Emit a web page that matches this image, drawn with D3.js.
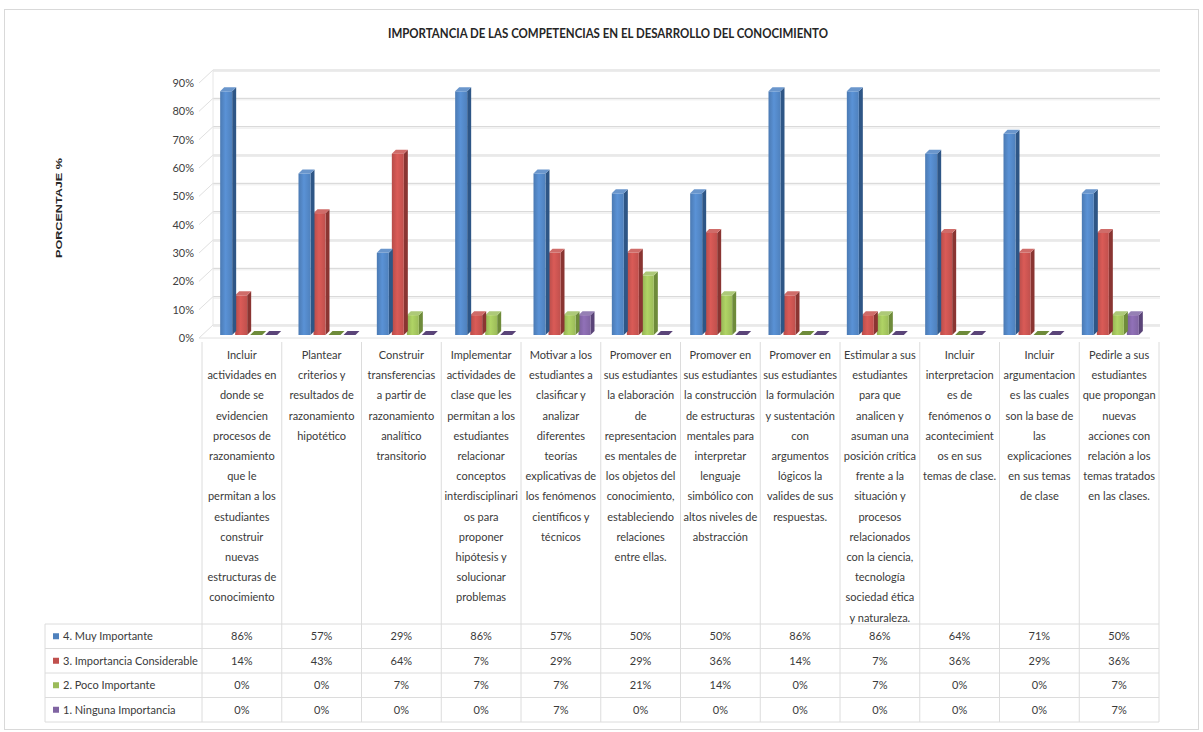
<!DOCTYPE html>
<html>
<head>
<meta charset="utf-8">
<script src="https://cdn.jsdelivr.net/npm/d3@7"></script>
<style>
  html, body { margin: 0; padding: 0; background: #fff; }
  svg { display: block; }
  .narrow { font-family: Lato, "Liberation Sans Narrow", "DejaVu Sans Condensed", sans-serif; }
</style>
</head>
<body>
<svg id="chart" width="1203" height="732"></svg>
<script>
const title = "IMPORTANCIA DE LAS COMPETENCIAS EN EL DESARROLLO DEL CONOCIMIENTO";
const yTitle = "PORCENTAJE %";
const categories = [
  ["Incluir","actividades en","donde se","evidencien","procesos de","razonamiento","que le","permitan a los","estudiantes","construir","nuevas","estructuras de","conocimiento"],
  ["Plantear","criterios y","resultados de","razonamiento","hipotético"],
  ["Construir","transferencias","a partir de","razonamiento","analítico","transitorio"],
  ["Implementar","actividades de","clase que les","permitan a los","estudiantes","relacionar","conceptos","interdisciplinari","os para","proponer","hipótesis y","solucionar","problemas"],
  ["Motivar a los","estudiantes a","clasificar y","analizar","diferentes","teorías","explicativas de","los fenómenos","científicos y","técnicos"],
  ["Promover en","sus estudiantes","la elaboración","de","representacion","es mentales de","los objetos del","conocimiento,","estableciendo","relaciones","entre ellas."],
  ["Promover en","sus estudiantes","la construcción","de estructuras","mentales para","interpretar","lenguaje","simbólico con","altos niveles de","abstracción"],
  ["Promover en","sus estudiantes","la formulación","y sustentación","con","argumentos","lógicos la","valides de sus","respuestas."],
  ["Estimular a sus","estudiantes","para que","analicen y","asuman una","posición crítica","frente a la","situación y","procesos","relacionados","con la ciencia,","tecnología","sociedad  ética","y naturaleza."],
  ["Incluir","interpretacion","es de","fenómenos o","acontecimient","os en sus","temas de clase."],
  ["Incluir","argumentacion","es las cuales","son la base de","las","explicaciones","en sus temas","de clase"],
  ["Pedirle a sus","estudiantes","que propongan","nuevas","acciones con","relación a los","temas tratados","en las clases."]
];
const seriesNames = ["4. Muy Importante", "3. Importancia Considerable", "2. Poco Importante", "1. Ninguna Importancia"];
const muyImportante        = [86, 57, 29, 86, 57, 50, 50, 86, 86, 64, 71, 50];
const importanciaConsider  = [14, 43, 64, 7, 29, 29, 36, 14, 7, 36, 29, 36];
const pocoImportante       = [0, 0, 7, 7, 7, 21, 14, 0, 7, 0, 0, 7];
const ningunaImportancia   = [0, 0, 0, 0, 7, 0, 0, 0, 0, 0, 0, 7];
const yTicks = [0, 10, 20, 30, 40, 50, 60, 70, 80, 90];
const seriesColors = ["#4F81BD", "#C0504D", "#9BBB59", "#8064A2"];
const seriesSide   = ["#2E5686", "#8A3532", "#6E8B3A", "#5A4478"];
const seriesTop    = ["#6A96CC", "#CF6C69", "#ADC978", "#9580B4"];

const values = [muyImportante, importanciaConsider, pocoImportante, ningunaImportancia];
const catIdx = categories.map((c, i) => i);

const svg = d3.select("#chart");

// outer border
svg.append("rect").attr("x", 4.5).attr("y", 9.5).attr("width", 1194).attr("height", 720)
  .attr("fill", "#fff").attr("stroke", "#d9d9d9");

// title
svg.append("text").attr("class", "narrow")
  .attr("x", 608).attr("y", 38).attr("text-anchor", "middle")
  .attr("font-size", 13).attr("font-weight", "bold").attr("fill", "#262626")
  .attr("textLength", 440).attr("lengthAdjust", "spacingAndGlyphs")
  .text(title);

// y axis title
svg.append("text")
  .attr("transform", "translate(62,208) rotate(-90)")
  .attr("text-anchor", "middle")
  .attr("font-family", "Liberation Sans, Arial, sans-serif")
  .attr("font-size", 9).attr("font-weight", "bold").attr("fill", "#262626")
  .attr("textLength", 100).attr("lengthAdjust", "spacingAndGlyphs")
  .text(yTitle);

// scales
const depthX = 14, depthY = 13;
const yFront = d3.scaleLinear().domain([0, 90]).range([338, 83]);
const yBar = d3.scaleLinear().domain([0, 90]).range([335, 80]);
const x0 = d3.scaleBand().domain(catIdx).range([211, 1151]);
const groupW = 60;
const x1 = d3.scaleBand().domain(d3.range(4)).range([0, groupW]);
const wallLeft = 199;

// gridlines: back wall + side wall diagonal
const grid = svg.append("g");
yTicks.forEach(t => {
  const yf = yFront(t);
  grid.append("line").attr("x1", wallLeft + depthX).attr("x2", 1160)
    .attr("y1", yf - depthY + 1.5).attr("y2", yf - depthY + 1.5)
    .attr("stroke", "#ececec").attr("stroke-width", 1);
  grid.append("line").attr("x1", wallLeft + depthX).attr("x2", 1160)
    .attr("y1", yf - depthY).attr("y2", yf - depthY)
    .attr("stroke", "#d4d4d4").attr("stroke-width", 1);
  grid.append("line").attr("x1", wallLeft).attr("x2", wallLeft + depthX)
    .attr("y1", yf).attr("y2", yf - depthY)
    .attr("stroke", "#e0e0e0").attr("stroke-width", 1);
});
grid.append("line").attr("x1", wallLeft + depthX).attr("x2", wallLeft + depthX)
  .attr("y1", yFront(90) - depthY).attr("y2", yFront(0) - depthY)
  .attr("stroke", "#e6e6e6");
grid.append("line").attr("x1", wallLeft).attr("x2", 1150)
  .attr("y1", yFront(0)).attr("y2", yFront(0)).attr("stroke", "#e0e0e0");

// y axis labels
const yAxis = d3.axisLeft(yFront).tickValues(yTicks).tickFormat(d => d + "%").tickSize(0).tickPadding(0);
const yg = svg.append("g").attr("transform", "translate(194,0)").call(yAxis);
yg.select(".domain").remove();
yg.attr("font-family", null).attr("font-size", null);
yg.selectAll("text").attr("class", "narrow").attr("font-size", 11).attr("fill", "#404040");

// gradients
const defs = svg.append("defs");
seriesColors.forEach((c, i) => {
  const g = defs.append("linearGradient").attr("id", "grad" + i)
    .attr("x1", "0").attr("x2", "1").attr("y1", "0").attr("y2", "0");
  g.append("stop").attr("offset", "0%").attr("stop-color", d3.color(c).darker(0.15));
  g.append("stop").attr("offset", "45%").attr("stop-color", d3.color(c).brighter(0.35));
  g.append("stop").attr("offset", "100%").attr("stop-color", c);
});

// bars
const frontW = 12, sideW = 4, topH = 4;
const bars = svg.append("g");
catIdx.forEach(ci => {
  const gx = x0(ci) + (x0.bandwidth() - groupW) / 2;
  for (let si = 3; si >= 0; si--) {
    const v = values[si][ci];
    const xl = gx + x1(si);
    const yt = yBar(v), yb = yBar(0);
    const grp = bars.append("g");
    grp.append("path")
      .attr("d", `M${xl + frontW},${yt} L${xl + frontW + sideW},${yt - topH} L${xl + frontW + sideW},${yb - topH} L${xl + frontW},${yb} Z`)
      .attr("fill", seriesSide[si]);
    grp.append("path")
      .attr("d", `M${xl},${yt} L${xl + sideW},${yt - topH} L${xl + frontW + sideW},${yt - topH} L${xl + frontW},${yt} Z`)
      .attr("fill", v === 0 ? seriesSide[si] : seriesTop[si]);
    if (v > 0) {
      grp.append("rect").attr("x", xl).attr("y", yt).attr("width", frontW).attr("height", yb - yt)
        .attr("fill", `url(#grad${si})`);
    }
  }
});

// data table
const colLeft = 202, colStep = (1159 - 202) / 12;
const colX = d3.scaleBand().domain(catIdx).range([colLeft, colLeft + colStep * 12]);
const rowTop = 624, rowH = 24.5;
const rowY = d3.scaleBand().domain(d3.range(4)).range([rowTop, rowTop + rowH * 4]);
const tbl = svg.append("g");
d3.range(13).forEach(i => {
  const x = colLeft + i * colStep;
  tbl.append("line").attr("x1", x).attr("x2", x).attr("y1", 342).attr("y2", 722)
    .attr("stroke", "#dcdcdc");
});
tbl.append("line").attr("x1", 45).attr("x2", 45).attr("y1", rowTop).attr("y2", 722).attr("stroke", "#dcdcdc");
d3.range(5).forEach(i => {
  const y = rowTop + i * rowH;
  tbl.append("line").attr("x1", 45).attr("x2", colLeft + 12 * colStep).attr("y1", y).attr("y2", y)
    .attr("stroke", "#dcdcdc");
});

// category labels
catIdx.forEach(ci => {
  const t = tbl.append("text").attr("class", "narrow")
    .attr("text-anchor", "middle").attr("font-size", 11).attr("fill", "#3a3a3a");
  categories[ci].forEach((line, li) => {
    t.append("tspan").attr("x", colX(ci) + colX.bandwidth() / 2)
      .attr("y", 359 + li * 20.2).text(line);
  });
});

// legend rows + values
seriesNames.forEach((name, si) => {
  const yc = rowY(si) + rowH / 2;
  tbl.append("rect").attr("x", 53).attr("y", yc - 3).attr("width", 6).attr("height", 6)
    .attr("fill", seriesColors[si]);
  tbl.append("text").attr("class", "narrow").attr("x", 63).attr("y", yc + 4)
    .attr("font-size", 11).attr("fill", "#3a3a3a").text(name);
  catIdx.forEach(ci => {
    tbl.append("text").attr("class", "narrow")
      .attr("x", colX(ci) + colX.bandwidth() / 2).attr("y", yc + 4)
      .attr("text-anchor", "middle").attr("font-size", 11).attr("fill", "#3a3a3a")
      .text(values[si][ci] + "%");
  });
});
</script>
</body>
</html>
